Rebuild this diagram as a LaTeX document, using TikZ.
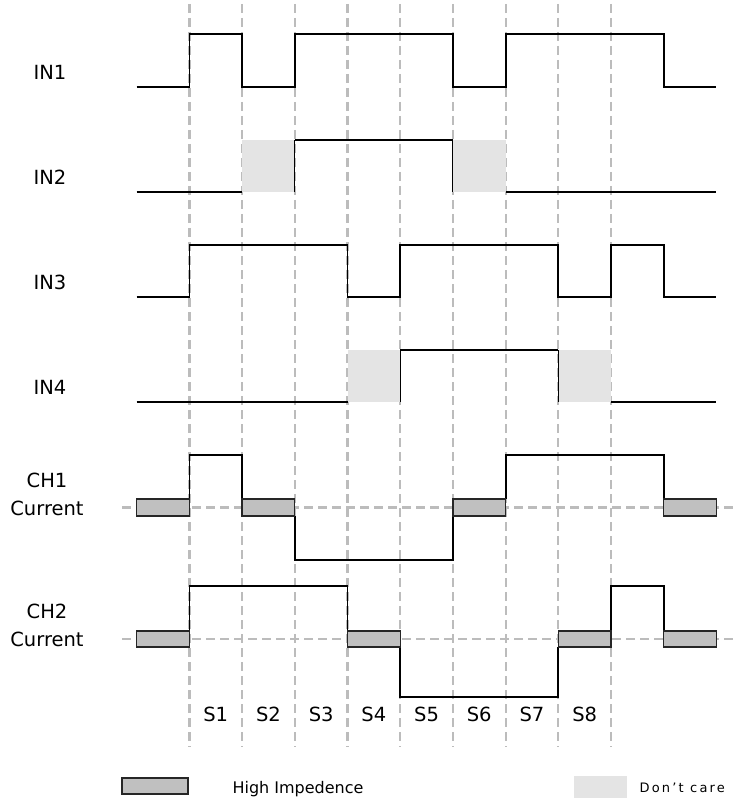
\documentclass[tikz,border=0pt]{standalone}
\usepackage{fontspec}
\setmainfont{DejaVu Sans}
\usetikzlibrary{positioning}
\definecolor{hizGray}{RGB}{192, 192, 192}
\definecolor{dcGray}{RGB}{228, 228, 228}
\definecolor{gridGray}{RGB}{188, 188, 188}

\begin{document}
\begin{tikzpicture}[x=1pt, y=-1pt]
                    \tikzstyle{sig} = [draw, line width=1.8pt, line join=miter]
                    \tikzstyle{edge} = [draw, line width=0.9pt]
                    \tikzstyle{gridLine} = [draw, gridGray, line width=2.2pt, dash pattern=on 9pt off 5pt]
                    \tikzstyle{hiz} = [draw=black!85, fill=hizGray, line width=1.3pt]
                    \tikzstyle{dontcare} = [fill=dcGray]
                    \tikzstyle{sigName} = [font=\fontsize{19.5}{28}\selectfont, align=center]
                    \tikzstyle{stateName} = [font=\fontsize{19.5}{24}\selectfont]
                    \useasboundingbox (0,0) rectangle (735,802);

                    % zero lines of the two currents
                    \draw [gridLine] (122,507.5) -- (735,507.5);
                    \draw [gridLine] (122,639) -- (735,639);

                    \node [sigName] (in1) at (50,72) {IN1};
                    \node [sigName] (in2) at (50,177) {IN2};
                    \node [sigName] (in3) at (50,282) {IN3};
                    \node [sigName] (in4) at (50,387) {IN4};
                    \node [sigName] (ch1) at (47,494) {CH1\\Current};
                    \node [sigName] (ch2) at (47,625) {CH2\\Current};

                    \begin{scope}[xshift=136.7pt, x=52.7pt]
                        \foreach \t in {1,...,9}
                            \draw [gridLine] (\t,4) -- (\t,747);
                        \foreach \t in {1,...,8}
                            \node [stateName] (s\t) at ({\t+0.5},714) {S\t};

                        % don't care regions
                        \path [dontcare] (2,140) rectangle (3,192);
                        \path [dontcare] (6,140) rectangle (7,192);
                        \path [dontcare] (4,350) rectangle (5,402);
                        \path [dontcare] (8,350) rectangle (9,402);

                        % inputs
                        \path [sig] (0,87) -- (1,87) -- (1,34) -- (2,34) -- (2,87) -- (3,87) -- (3,34) -- (6,34)
                            -- (6,87) -- (7,87) -- (7,34) -- (10,34) -- (10,87) -- (11,87);
                        \path [sig] (0,192) -- (2,192);
                        \path [sig] (3,140) -- (6,140);
                        \path [sig] (7,192) -- (11,192);
                        \path [edge] (3,192) -- (3,140);
                        \path [edge] (6,140) -- (6,192);
                        \path [sig] (0,297) -- (1,297) -- (1,245) -- (4,245) -- (4,297) -- (5,297) -- (5,245) -- (8,245)
                            -- (8,297) -- (9,297) -- (9,245) -- (10,245) -- (10,297) -- (11,297);
                        \path [sig] (0,402) -- (4,402);
                        \path [sig] (5,350) -- (8,350);
                        \path [sig] (9,402) -- (11,402);
                        \path [edge] (5,402) -- (5,350);
                        \path [edge] (8,350) -- (8,402);

                        % currents
                        \path [sig] (1,499) -- (1,455) -- (2,455) -- (2,499);
                        \path [sig] (3,516) -- (3,560) -- (6,560) -- (6,516);
                        \path [sig] (7,499) -- (7,455) -- (10,455) -- (10,499);
                        \path [sig] (1,631) -- (1,586) -- (4,586) -- (4,631);
                        \path [sig] (5,647) -- (5,697) -- (8,697) -- (8,647);
                        \path [sig] (9,631) -- (9,586) -- (10,586) -- (10,631);
                        \foreach \t in {0,2,6,10}
                            \path [hiz] (\t,499) rectangle ({\t+1},516);
                        \foreach \t in {0,4,8,10}
                            \path [hiz] (\t,631) rectangle ({\t+1},647);
                    \end{scope}

                    % legend
                    \path [hiz] (122,778) rectangle (188,794);
                    \node [anchor=west, font=\fontsize{16}{20}\selectfont] (hizText) at (229,789) {High Impedence};
                    \path [dontcare] (574,776) rectangle (627,798);
                    \node [anchor=west, font=\fontsize{13}{16}\selectfont\addfontfeature{LetterSpace=17}] (dcText) at (636,788) {Don’t care};
                \end{tikzpicture}
\end{document}
